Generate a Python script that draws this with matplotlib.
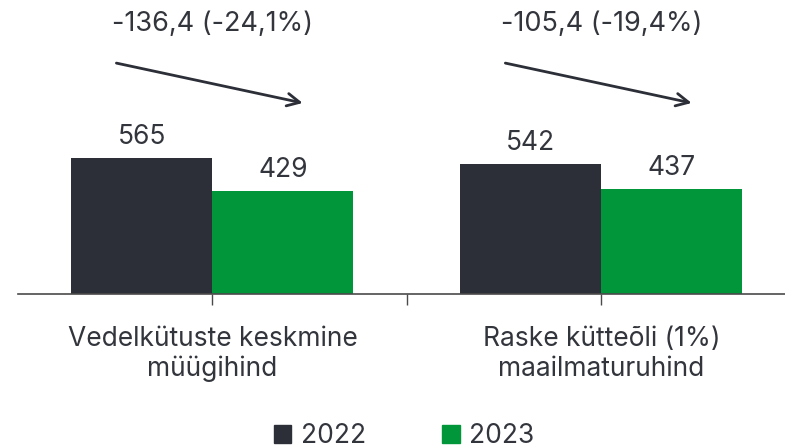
"""
plot.py — fuel price comparison 2022 vs 2023
"""

import matplotlib.pyplot as plt
from matplotlib.patches import Patch

plt.rcParams['font.family'] = ['Inter', 'DejaVu Sans']

CATEGORIES = ["Vedelkütuste keskmine\nmüügihind", "Raske kütteõli (1%)\nmaailmaturuhind"]
YEARS = ["2022", "2023"]
VALUES_2022 = [565, 542]
VALUES_2023 = [429, 437]
CHANGES = ["-136,4 (-24,1%)", "-105,4 (-19,4%)"]

DARK = '#2d2f38'
GREEN = '#009639'
TEXT = '#33353d'
FS = 19

fig = plt.figure(figsize=(7.85, 4.48), dpi=100)
ax = fig.add_axes([18 / 785, 154.5 / 448, 767 / 785, 293.5 / 448])

w = 0.3625
xs = list(range(len(CATEGORIES)))
b1 = ax.bar([x - w / 2 for x in xs], VALUES_2022, width=w, color=DARK)
b2 = ax.bar([x + w / 2 for x in xs], VALUES_2023, width=w, color=GREEN)

for bars in (b1, b2):
    for rect in bars:
        ax.annotate(f"{rect.get_height():.0f}",
                    (rect.get_x() + rect.get_width() / 2, rect.get_height()),
                    xytext=(0, 6), textcoords='offset points',
                    ha='center', va='bottom', fontsize=FS, color=TEXT)

ax.set_xlim(-0.5, 1.472)
ax.set_ylim(0, 1228)

# change label + arrow above each group
for x, label in zip(xs, CHANGES):
    ax.text(x, 1128, label, ha='center', va='center', fontsize=FS + 0.5, color=TEXT)
    ax.annotate("", xy=(x + 0.232, 797), xytext=(x - 0.247, 964),
                arrowprops=dict(arrowstyle='->,head_length=0.9,head_width=0.45',
                                color=DARK, lw=2, shrinkA=0, shrinkB=0))

for s in ('top', 'right', 'left'):
    ax.spines[s].set_visible(False)
ax.spines['bottom'].set_color('#4a4a4a')
ax.spines['bottom'].set_linewidth(1.2)
ax.set_yticks([])
ax.set_xticks([0, 0.5, 1])
ax.set_xticklabels([])
ax.tick_params(axis='x', length=8, width=1, color='#4a4a4a')

for x, cat in zip(xs, CATEGORIES):
    ax.text(x, -32 / 0.239, cat, ha='center', va='top', fontsize=FS,
            color=TEXT, linespacing=1.2)

handles = [Patch(color=DARK, label=YEARS[0]), Patch(color=GREEN, label=YEARS[1])]
fig.legend(handles=handles, loc='center', bbox_to_anchor=(404 / 785, 1 - 436 / 448),
           ncol=2, frameon=False, fontsize=FS, handlelength=0.66, handleheight=0.66,
           handletextpad=0.35, columnspacing=2.9, labelcolor=TEXT)

fig.savefig('out.png', dpi=100)
